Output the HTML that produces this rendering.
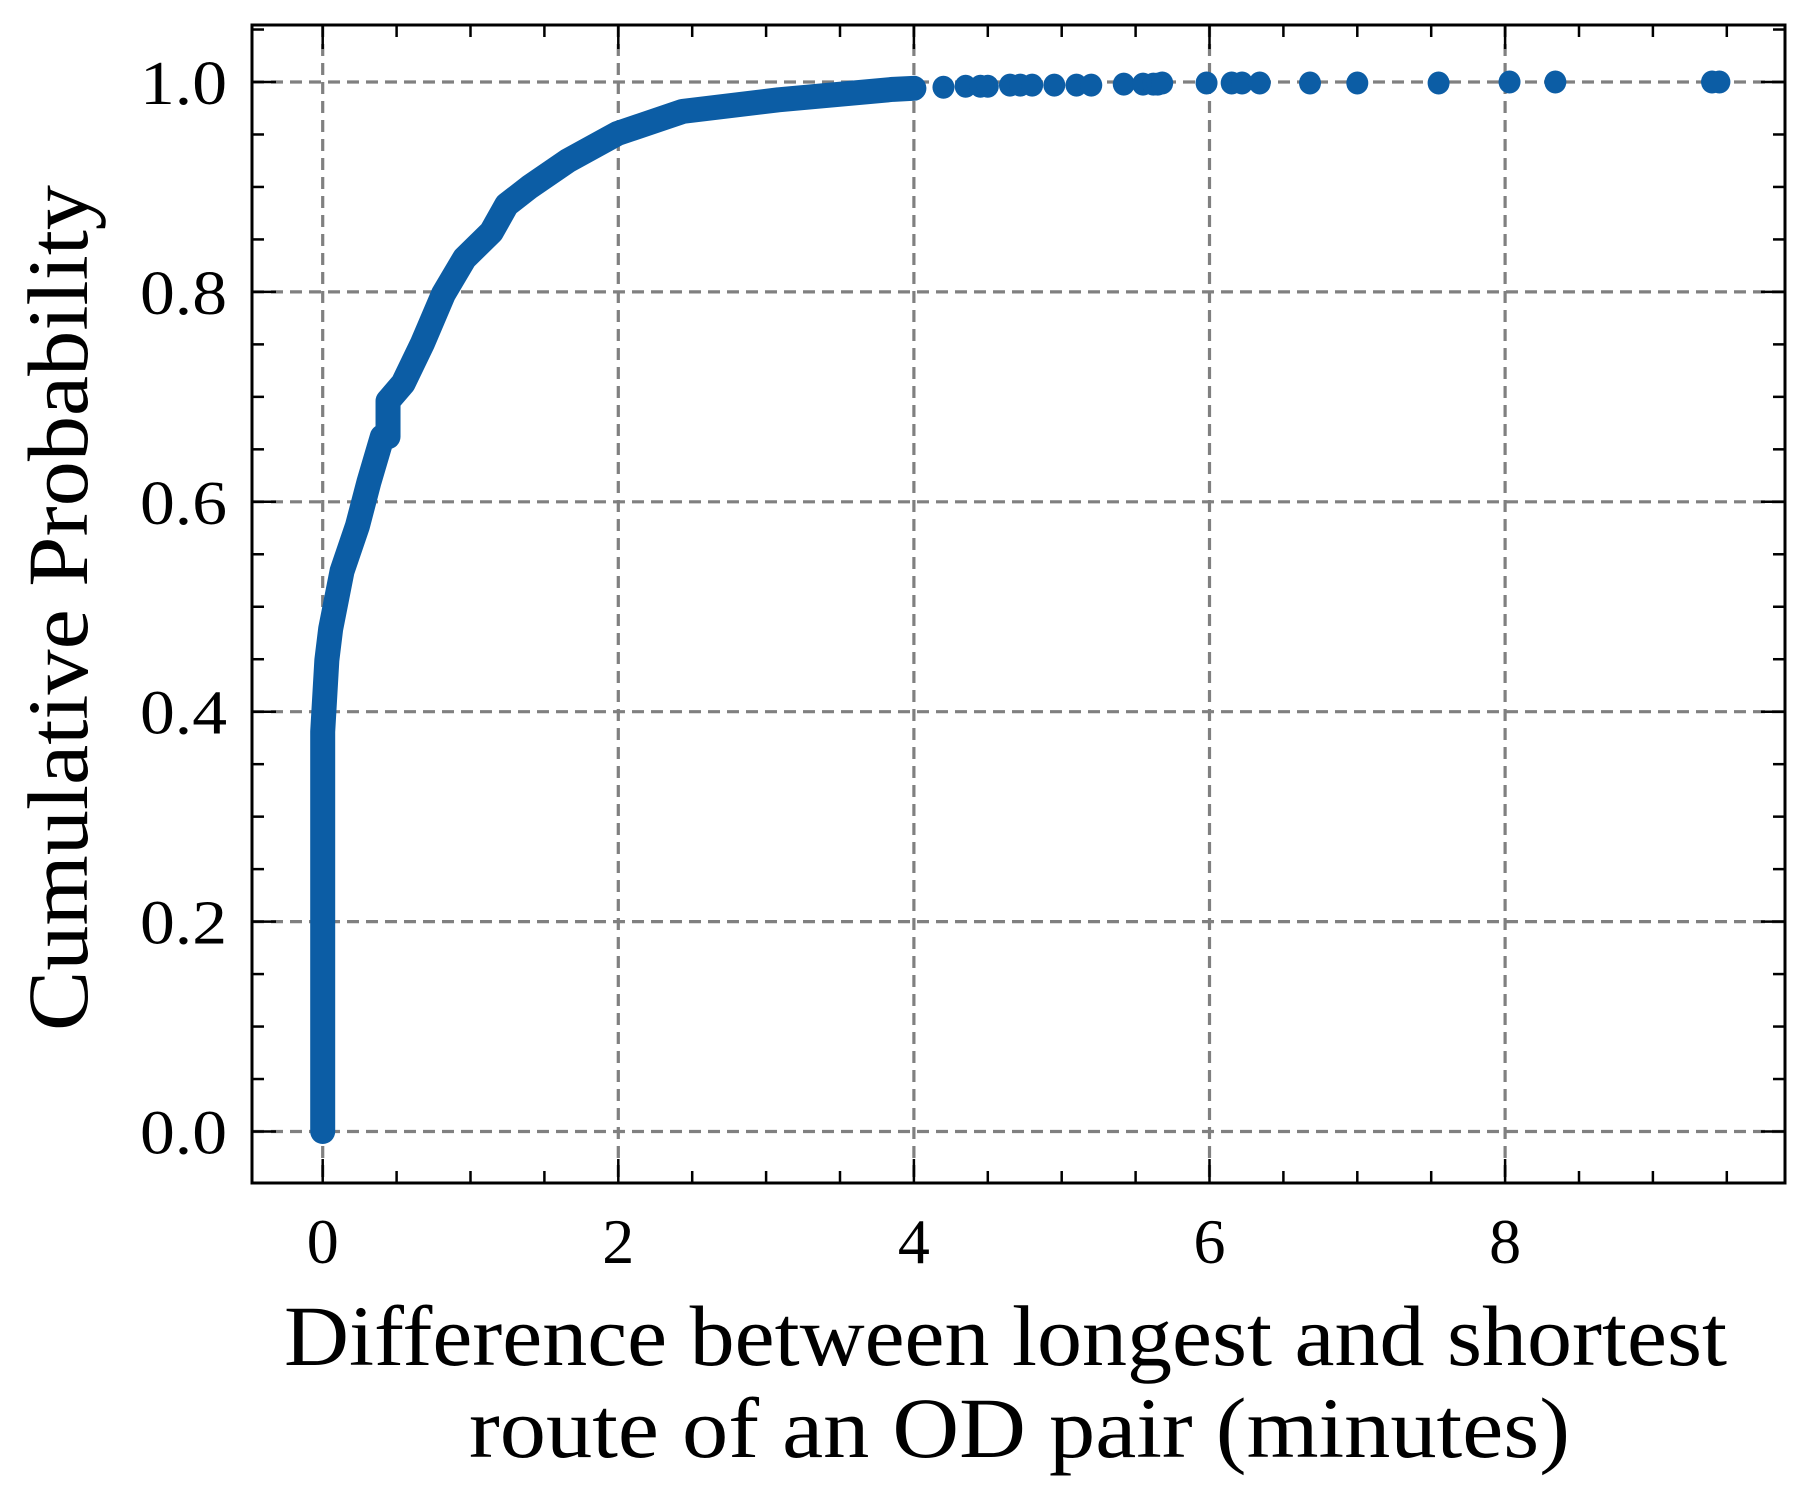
<!DOCTYPE html>
<html><head><meta charset="utf-8"><style>
html,body{margin:0;padding:0;background:#fff;}
svg{display:block;font-family:"Liberation Serif",serif;}
</style></head><body>
<svg id="chart" width="1817" height="1507" viewBox="0 0 1817 1507" xmlns="http://www.w3.org/2000/svg"></svg>
<script>
// Data
const curveX = [0, 0, 0.028, 0.054, 0.131, 0.235, 0.313, 0.403, 0.442, 0.442, 0.545, 0.675, 0.817, 0.96, 1.141, 1.245, 1.4, 1.659, 1.995, 2.436, 3.083, 3.86, 4.0];
const curveY = [0, 0.381, 0.449, 0.479, 0.534, 0.577, 0.619, 0.662, 0.662, 0.696, 0.713, 0.751, 0.798, 0.832, 0.857, 0.883, 0.9, 0.925, 0.951, 0.972, 0.983, 0.993, 0.994];
const tailX = [4.2, 4.35, 4.45, 4.5, 4.65, 4.72, 4.8, 4.95, 5.1, 5.2, 5.42, 5.55, 5.62, 5.65, 5.68, 5.98, 6.15, 6.22, 6.34, 6.68, 7.0, 7.55, 8.03, 8.34, 9.4, 9.45];
const tailY = [0.995, 0.996, 0.996, 0.996, 0.997, 0.997, 0.997, 0.997, 0.997, 0.997, 0.998, 0.998, 0.998, 0.998, 0.999, 0.999, 0.999, 0.999, 0.999, 0.999, 0.999, 0.999, 1.0, 1.0, 1.0, 1.0];
const xTicks = [0, 2, 4, 6, 8];
const xTickLabels = ["0", "2", "4", "6", "8"];
const yTicks = [0, 0.2, 0.4, 0.6, 0.8, 1.0];
const yTickLabels = ["0.0", "0.2", "0.4", "0.6", "0.8", "1.0"];

const L = 252, R = 1785, T = 25, B = 1183;
const X0 = 322.7, XU = 147.8, Y0 = 1131.5, YU = 1049.5;
const sx = v => X0 + v * XU;
const sy = v => Y0 - v * YU;
const svg = document.getElementById('chart');
const NS = 'http://www.w3.org/2000/svg';
function mk(tag, attrs, parent) {
  const e = document.createElementNS(NS, tag);
  for (const k in attrs) e.setAttribute(k, attrs[k]);
  (parent || svg).appendChild(e);
  return e;
}

// grid
const grid = mk('g', {stroke: '#808080', 'stroke-width': 3.2, 'stroke-dasharray': '12,7'});


xTicks.forEach(v => { mk('line', {x1: sx(v), x2: sx(v), y1: T, y2: B}, grid); });
yTicks.forEach(v => { mk('line', {x1: L, x2: R, y1: sy(v), y2: sy(v)}, grid); });

// data
const series = mk('g', {fill: '#0C5DA5'});


const pts = curveX.map((x, i) => sx(x) + ',' + sy(curveY[i])).join(' ');
const pl = mk('polyline', {points: pts, fill: 'none', stroke: '#0C5DA5', 'stroke-width': 25, 'stroke-linecap': 'round', 'stroke-linejoin': 'round'}, series);


tailX.forEach((x, i) => {
  const c = mk('ellipse', {cx: sx(x), cy: sy(tailY[i]), rx: 11, ry: 11.5}, series);
  
  
});

// axes frame
const frame = mk('rect', {x: L, y: T, width: R - L, height: B - T, fill: 'none', stroke: '#000', 'stroke-width': 3});



// ticks
const tk = mk('g', {stroke: '#000', 'stroke-width': 2.5});


for (let v = -0.5; v <= 9.9; v += 0.5) {
  const x = sx(v); if (x < L + 2 || x > R - 2) continue;
  const major = Math.abs(v / 2 - Math.round(v / 2)) < 1e-6;
  const len = major ? 24 : 12;
  mk('line', {x1: x, x2: x, y1: B, y2: B - len}, tk);
  mk('line', {x1: x, x2: x, y1: T, y2: T + len}, tk);
}
for (let i = -1; i <= 21; i++) {
  const v = i * 0.05; const y = sy(v); if (y < T + 2 || y > B - 2) continue;
  const major = i % 4 === 0;
  const len = major ? 24 : 12;
  mk('line', {x1: L, x2: L + len, y1: y, y2: y}, tk);
  mk('line', {x1: R, x2: R - len, y1: y, y2: y}, tk);
}

// tick labels
xTicks.forEach((v, i) => {
  const t = mk('text', {x: sx(v), y: 1263, 'text-anchor': 'middle', 'font-size': 64});
  t.textContent = xTickLabels[i];
  
  
});
yTicks.forEach((v, i) => {
  const t = mk('text', {x: 140, y: sy(v) + 22, 'font-size': 62, textLength: 87, lengthAdjust: 'spacingAndGlyphs'});
  t.textContent = yTickLabels[i];
  
  
});

// axis titles
const xt1 = mk('text', {x: 284, y: 1365, 'font-size': 86, textLength: 1443, lengthAdjust: 'spacingAndGlyphs'});
xt1.textContent = 'Difference between longest and shortest';


const xt2 = mk('text', {x: 469, y: 1457, 'font-size': 86, textLength: 1101, lengthAdjust: 'spacingAndGlyphs'});
xt2.textContent = 'route of an OD pair (minutes)';


const yt = mk('text', {x: -1031, y: 87, 'font-size': 86, textLength: 846, lengthAdjust: 'spacingAndGlyphs', transform: 'rotate(-90)'});
yt.textContent = 'Cumulative Probability';


</script>
</body></html>
